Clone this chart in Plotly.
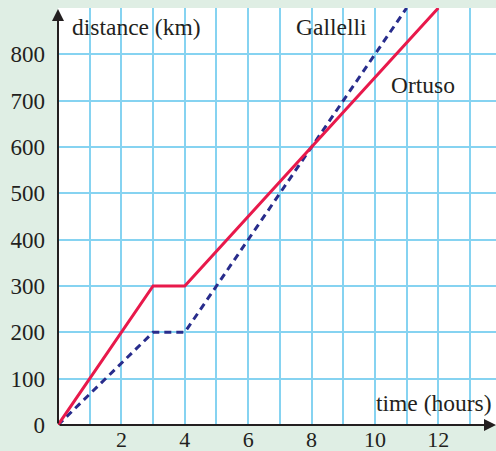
import plotly.graph_objects as go

# Data
ortuso_time = [0, 3, 4, 12]
ortuso_dist = [0, 300, 300, 900]
gallelli_time = [0, 3, 4, 11]
gallelli_dist = [0, 200, 200, 900]
x_ticks = [2, 4, 6, 8, 10, 12]
y_ticks = [0, 100, 200, 300, 400, 500, 600, 700, 800]

FONT = "'Liberation Serif', 'Times New Roman', serif"
GRID = "#86d3f1"
BG = "#dfeee4"
RED = "#e8194b"
NAVY = "#282c8c"

fig = go.Figure()
fig.add_trace(go.Scatter(x=gallelli_time, y=gallelli_dist, mode="lines",
                         line=dict(color=NAVY, width=3, dash="7px,5px")))
fig.add_trace(go.Scatter(x=ortuso_time, y=ortuso_dist, mode="lines",
                         line=dict(color=RED, width=3)))

fig.update_layout(
    width=496, height=451,
    margin=dict(l=58, r=0, t=8, b=26, autoexpand=False),
    paper_bgcolor=BG, plot_bgcolor="white",
    showlegend=False,
    font=dict(family=FONT, size=23.5, color="#231f20"),
)
fig.update_xaxes(range=[0, 13.82], tickvals=x_ticks, showgrid=True, gridcolor=GRID, gridwidth=1.5,
                 minor=dict(dtick=1, tick0=0, showgrid=True, gridcolor=GRID, gridwidth=1.5),
                 zeroline=False, showline=False, ticks="", ticklabelstandoff=-1, automargin=False,
                 tickfont=dict(family=FONT, size=22))
fig.update_yaxes(range=[0, 900], tickvals=y_ticks, showgrid=True, gridcolor=GRID, gridwidth=1.5,
                 minor=dict(dtick=100, tick0=0, showgrid=True, gridcolor=GRID, gridwidth=1.5),
                 zeroline=False, showline=False, ticks="", ticklabelstandoff=12, automargin=False,
                 tickfont=dict(family=FONT, size=23))

# Axes with arrowheads
fig.add_annotation(x=0, y=898, ax=0, ay=0, xref="x", yref="y", axref="x", ayref="y",
                   showarrow=True, arrowhead=2, arrowsize=1.2, arrowwidth=2, arrowcolor="#231f20", text="")
fig.add_annotation(x=13.82, y=0, ax=0, ay=0, xref="x", yref="y", axref="x", ayref="y",
                   showarrow=True, arrowhead=2, arrowsize=1.2, arrowwidth=2, arrowcolor="#231f20", text="")

# Labels
fig.add_annotation(x=0.38, y=859, text="distance (km)", showarrow=False, xanchor="left", yanchor="middle")
fig.add_annotation(x=13.75, y=47, text="time (hours)", showarrow=False, xanchor="right", yanchor="middle")
fig.add_annotation(x=7.45, y=860, text="Gallelli", showarrow=False, xanchor="left", yanchor="middle")
fig.add_annotation(x=10.45, y=733, text="Ortuso", showarrow=False, xanchor="left", yanchor="middle")

fig.write_html("out.html", config={"displayModeBar": False},
               post_script="document.body.style.margin='0';document.body.style.padding='0';")
